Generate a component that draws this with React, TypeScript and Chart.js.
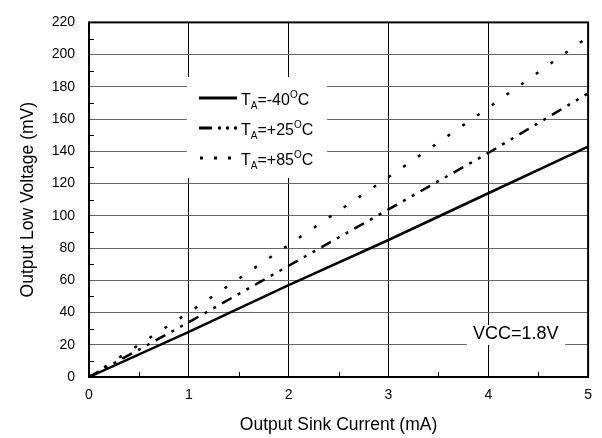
import React, { useEffect, useRef } from "react";
import { Chart, registerables } from "chart.js";

Chart.register(...registerables);

// ---- data ----
const currentMA = [0, 1, 2, 3, 4, 5];
const voltMinus40 = [0, 28, 57, 85, 114, 143];
const voltPlus25 = [0, 34, 69, 104, 139, 176];
const voltPlus85 = [0, 40, 82, 124, 167, 211];
const legendTemps = ["-40", "+25", "+85"];
const xMinorTicks = [0.5, 1.5, 2.5, 3.5, 4.5];
const yMinorTicks = [10, 30, 50, 70, 90, 110, 130, 150, 170, 190, 210];
const xTitle = "Output Sink Current (mA)";
const yTitle = "Output Low Voltage (mV)";
const noteText = "VCC=1.8V";

const FONT = "'Liberation Sans', Arial, Helvetica, sans-serif";

const toPoints = (ys: number[]) => currentMA.map((x, i) => ({ x, y: ys[i] }));

const overlayPlugin = {
  id: "overlay",
  beforeDatasetsDraw(chart: any) {
    const ctx = chart.ctx as CanvasRenderingContext2D;
    const { left, bottom } = chart.chartArea;
    const xs = chart.scales.x;
    const ys = chart.scales.y;
    ctx.save();
    // white backgrounds for legend and note
    ctx.fillStyle = "#ffffff";
    ctx.fillRect(187, 77, 140, 101);
    ctx.fillRect(467, 325, 98, 20);
    // minor ticks
    ctx.strokeStyle = "#000";
    ctx.lineWidth = 1;
    ctx.beginPath();
    xMinorTicks.forEach((v) => {
      const px = Math.round(xs.getPixelForValue(v)) + 0.5;
      ctx.moveTo(px, bottom);
      ctx.lineTo(px, bottom - 5);
    });
    yMinorTicks.forEach((v) => {
      const py = Math.round(ys.getPixelForValue(v)) + 0.5;
      ctx.moveTo(left, py);
      ctx.lineTo(left + 5, py);
    });
    ctx.stroke();
    ctx.restore();
  },
  afterDraw(chart: any) {
    const ctx = chart.ctx as CanvasRenderingContext2D;
    const { left, right, top, bottom } = chart.chartArea;
    ctx.save();
    // frame
    ctx.strokeStyle = "#000";
    ctx.lineWidth = 2;
    ctx.strokeRect(left, top, right - left, bottom - top);

    // legend
    const rows = [98, 128, 158];
    const x0 = 199;
    const x1 = 237;
    ctx.lineWidth = 3;
    ctx.lineCap = "butt";
    // row 1 solid
    ctx.beginPath();
    ctx.moveTo(x0, rows[0]);
    ctx.lineTo(x1, rows[0]);
    ctx.stroke();
    // row 2 dash-dot-dot
    const segs2 = [
      [199, 212],
      [218, 221],
      [226, 229],
      [234, 237],
    ];
    ctx.beginPath();
    segs2.forEach(([a, b]) => {
      ctx.moveTo(a, rows[1]);
      ctx.lineTo(b, rows[1]);
    });
    ctx.stroke();
    // row 3 dots
    const segs3 = [
      [200, 203],
      [214, 217],
      [228, 231],
    ];
    ctx.beginPath();
    segs3.forEach(([a, b]) => {
      ctx.moveTo(a, rows[2]);
      ctx.lineTo(b, rows[2]);
    });
    ctx.stroke();

    ctx.fillStyle = "#000";
    ctx.textBaseline = "alphabetic";
    ctx.textAlign = "left";
    legendTemps.forEach((t, i) => {
      const base = rows[i] + 7;
      let x = 241;
      ctx.font = `16px ${FONT}`;
      ctx.fillText("T", x, base);
      x += ctx.measureText("T").width;
      ctx.font = `10px ${FONT}`;
      ctx.fillText("A", x, base + 4);
      x += ctx.measureText("A").width;
      ctx.font = `16px ${FONT}`;
      const mid = "=" + t;
      ctx.fillText(mid, x, base);
      x += ctx.measureText(mid).width;
      ctx.font = `10px ${FONT}`;
      ctx.fillText("O", x, base - 7);
      x += ctx.measureText("O").width;
      ctx.font = `16px ${FONT}`;
      ctx.fillText("C", x, base);
    });

    // note
    ctx.font = `18px ${FONT}`;
    ctx.fillText(noteText, 473, 339);
    ctx.restore();
  },
};

export default function App() {
  const ref = useRef<HTMLCanvasElement | null>(null);
  useEffect(() => {
    document.body.style.margin = "0";
    const canvas = ref.current;
    if (!canvas) return;
    const chart = new Chart(canvas, {
      type: "line",
      data: {
        datasets: [
          {
            label: "TA=-40°C",
            data: toPoints(voltMinus40),
            borderColor: "#000",
            borderWidth: 2.5,
            pointRadius: 0,
            tension: 0,
          },
          {
            label: "TA=+25°C",
            data: toPoints(voltPlus25),
            borderColor: "#000",
            borderWidth: 2.5,
            borderDash: [11, 7, 3, 7, 3, 7],
            pointRadius: 0,
            tension: 0,
          },
          {
            label: "TA=+85°C",
            data: toPoints(voltPlus85),
            borderColor: "#000",
            borderWidth: 2.5,
            borderDash: [3, 15],
            pointRadius: 0,
            tension: 0,
          },
        ],
      },
      options: {
        animation: false,
        responsive: true,
        maintainAspectRatio: false,
        layout: { padding: { top: 10, right: 12, bottom: 0, left: 0 } },
        plugins: {
          legend: { display: false },
          tooltip: { enabled: false },
        },
        scales: {
          x: {
            type: "linear",
            min: 0,
            max: 5,
            ticks: {
              stepSize: 1,
              color: "#000",
              font: { family: FONT, size: 14 },
              padding: 10,
              maxRotation: 0,
            },
            grid: { color: "#000", lineWidth: 1, drawTicks: false },
            border: { display: false },
            title: {
              display: true,
              text: xTitle,
              color: "#000",
              font: { family: FONT, size: 17.5 },
              padding: { top: 0, bottom: 2.5 },
            },
            afterFit: (scale: any) => {
              scale.height = 61;
            },
          },
          y: {
            type: "linear",
            min: 0,
            max: 220,
            ticks: {
              stepSize: 20,
              color: "#000",
              font: { family: FONT, size: 14 },
              padding: 14,
            },
            grid: { color: "#666", lineWidth: 1, drawTicks: false },
            border: { display: false },
            title: {
              display: true,
              text: yTitle,
              color: "#000",
              font: { family: FONT, size: 17.5 },
              padding: { top: 18, bottom: 0 },
            },
            afterFit: (scale: any) => {
              scale.width = 89;
            },
          },
        },
      },
      plugins: [overlayPlugin],
    } as any);
    return () => chart.destroy();
  }, []);
  return (
    <div style={{ position: "absolute", left: 0, top: 0, width: 602, height: 438 }}>
      <canvas ref={ref} />
    </div>
  );
}
